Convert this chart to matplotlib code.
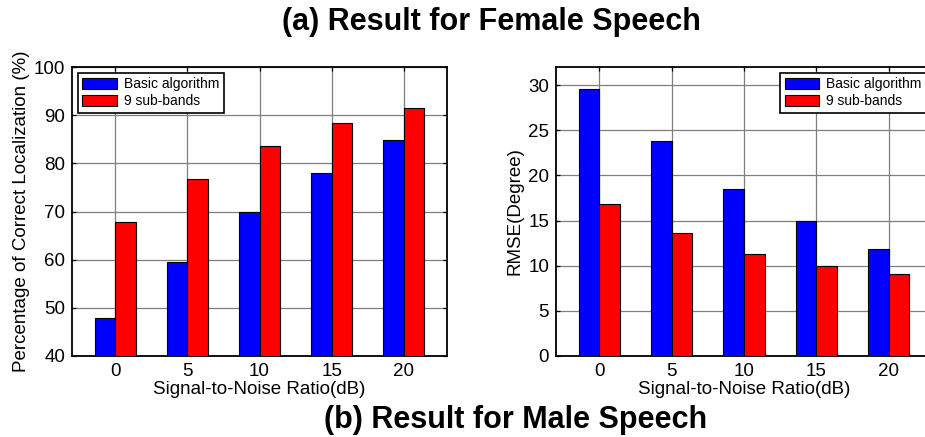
import matplotlib
matplotlib.use("Agg")
import matplotlib.pyplot as plt
import numpy as np

matplotlib.rcParams.update({'font.family': ['Liberation Sans', 'DejaVu Sans'], 'font.size': 13})

# DATA
snr = [0, 5, 10, 15, 20]
snr_labels = ['0', '5', '10', '15', '20']
series_names = ['Basic algorithm', '9 sub-bands']
loc_basic = [47.8, 59.5, 70.0, 78.0, 84.8]
loc_sub = [67.9, 76.8, 83.5, 88.4, 91.4]
rmse_basic = [29.56, 23.84, 18.45, 14.94, 11.85]
rmse_sub = [16.83, 13.58, 11.29, 9.96, 9.08]

W, H = 925, 437
fig = plt.figure(figsize=(W/100, H/100), dpi=100)

def px_axes(x0, x1, y0, y1):
    # pixel box (top-left origin) -> figure fraction
    return fig.add_axes([x0/W, 1-y1/H, (x1-x0)/W, (y1-y0)/H])

def grouped(ax, a, b, ylim, yticks, ylabel, legend_loc):
    x = np.array(snr, dtype=float)
    bw = 1.43
    ax.bar(x - bw/2, a, bw, color='#0000ff', edgecolor='black', linewidth=0.8,
           label=series_names[0], zorder=3)
    ax.bar(x + bw/2, b, bw, color='#ff0000', edgecolor='black', linewidth=0.8,
           label=series_names[1], zorder=3)
    ax.set_xlim(-3, 23)
    ax.set_ylim(*ylim)
    ax.set_xticks(snr)
    ax.set_xticklabels(snr_labels)
    ax.set_yticks(yticks)
    ax.grid(True, color='#7f7f7f', linewidth=0.9, zorder=0)
    ax.set_axisbelow(True)
    ax.tick_params(direction='in', length=3, width=0.9, top=True, right=True,
                   labelsize=13.5, pad=5)
    for s in ax.spines.values():
        s.set_linewidth(1.3)
    ax.set_xlabel('Signal-to-Noise Ratio(dB)', fontsize=13.5, labelpad=1)
    ax.set_ylabel(ylabel, fontsize=13.5, labelpad=3)
    leg = ax.legend(loc=legend_loc, fontsize=10, frameon=True, fancybox=False,
                    edgecolor='black', framealpha=1, handlelength=2.5,
                    handleheight=0.9, borderpad=0.35, labelspacing=0.2,
                    handletextpad=0.5, borderaxespad=0.4)
    leg.get_frame().set_linewidth(1.2)
    return ax

ax1 = px_axes(72, 447, 67, 356)
grouped(ax1, loc_basic, loc_sub, (40, 100), np.arange(40, 101, 10),
        'Percentage of Correct Localization (%)', 'upper left')

ax2 = px_axes(556, 932, 67, 356)
grouped(ax2, rmse_basic, rmse_sub, (0, 32), np.arange(0, 31, 5),
        'RMSE(Degree)', 'upper right')

fig.text(491/W, 1-22/H, '(a) Result for Female Speech', fontsize=22,
         fontweight='bold', ha='center', va='center')
fig.text(516/W, 1-420/H, '(b) Result for Male Speech', fontsize=22,
         fontweight='bold', ha='center', va='center')

fig.savefig('out.png', dpi=100)
